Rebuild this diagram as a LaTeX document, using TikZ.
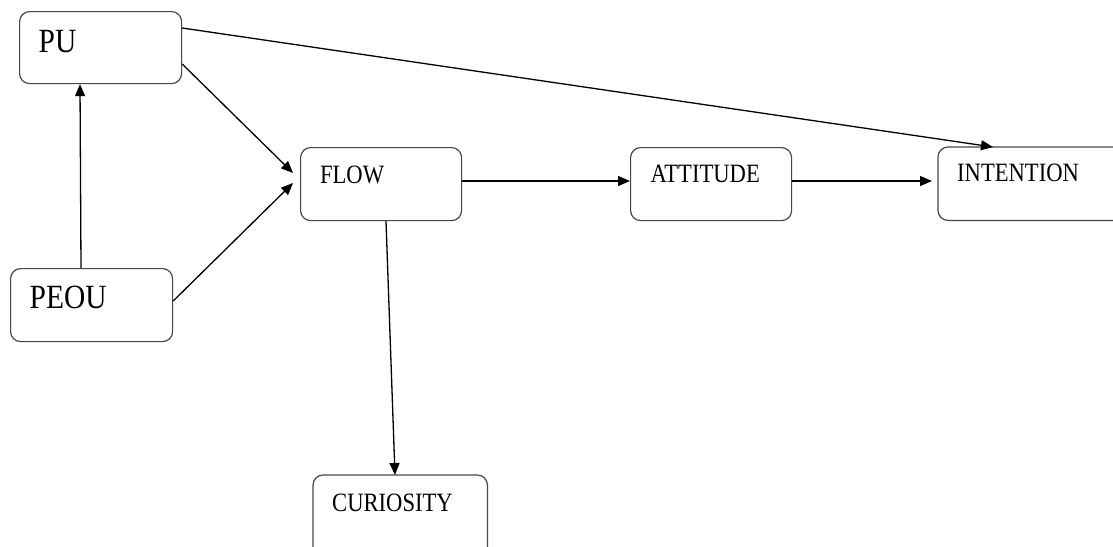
\documentclass[tikz,border=0pt]{standalone}
\usepackage{fontspec}
\setmainfont{Liberation Serif}
\usetikzlibrary{arrows.meta,calc}
\newcommand{\bigtxt}[1]{{\fontsize{29.5pt}{30pt}\selectfont\scalebox{1}[1.15]{#1}}}
\newcommand{\smalltxt}[1]{{\fontsize{22.6pt}{23pt}\selectfont\scalebox{1}[1.17]{#1}}}
\begin{document}
\begin{tikzpicture}[x=1pt,y=-1pt,
  boxline/.style={draw=black!72, line width=1.2pt, rounded corners=10pt},
  box/.style={boxline, anchor=north west, inner ysep=0pt, align=left},
  openbox/.style={anchor=north west, inner ysep=0pt, align=left},
  conn/.style={draw=black, line width=1.3pt, -{Triangle[length=12pt,width=10pt]}}]
\useasboundingbox (0,0) rectangle (1113,546);
\node[box, inner xsep=19pt, text width=124pt, text height=41pt, text depth=31pt] (PU) at (19,11) {\bigtxt{PU}};
\node[box, inner xsep=19pt, text width=124pt, text height=40pt, text depth=33pt] (PEOU) at (10,268) {\bigtxt{PEOU}};
\node[box, inner xsep=19.5pt, text width=122pt, text height=36pt, text depth=37pt] (FLOW) at (300,147) {\smalltxt{FLOW}};
\node[box, inner xsep=20pt, text width=121pt, text height=35pt, text depth=38pt] (ATT) at (630,147) {\smalltxt{ATTITUDE}};
\node[openbox, inner xsep=19pt, text width=136pt, text height=34pt, text depth=39pt] (INT) at (938,147) {\smalltxt{INTENTION}};
\node[openbox, inner xsep=19pt, text width=136pt, text height=36pt, text depth=64pt] (CUR) at (313,475) {\smalltxt{CURIOSITY}};
\draw[boxline] ($(INT.north west)+(200,0)$) -- (INT.north west) -- (INT.south west) -- ($(INT.south west)+(200,0)$);
\draw[boxline] ($(CUR.north west)+(0,100)$) -- (CUR.north west) -- (CUR.north east) -- ($(CUR.north east)+(0,100)$);

\coordinate (puA) at ($(PU.north east)+(0,17)$);
\coordinate (intA) at ($(INT.north west)+(55,0)$);
\draw[conn] (puA) -- (intA);
\coordinate (puB) at ($(PU.north east)+(0,53)$);
\coordinate (flA) at ($(FLOW.north west)+(-7,26)$);
\draw[conn] (puB) -- (flA);
\coordinate (peA) at ($(PEOU.north east)+(0,33)$);
\coordinate (flB) at ($(FLOW.north west)+(-7,36)$);
\draw[conn] (peA) -- (flB);
\coordinate (peB) at ($(PEOU.north west)+(71,0)$);
\coordinate (puC) at ($(PU.south west)+(61,0)$);
\draw[conn] (peB) -- (puC);
\coordinate (flC) at ($(FLOW.north east)+(0,34)$);
\coordinate (atA) at ($(ATT.north west)+(0,34)$);
\draw[conn] (flC) -- (atA);
\coordinate (atB) at ($(ATT.north east)+(0,34)$);
\coordinate (intB) at ($(INT.north west)+(-6,34)$);
\draw[conn] (atB) -- (intB);
\coordinate (flD) at ($(FLOW.south west)+(86,0)$);
\coordinate (cuA) at ($(CUR.north west)+(82,0)$);
\draw[conn] (flD) -- (cuA);
\end{tikzpicture}
\end{document}
